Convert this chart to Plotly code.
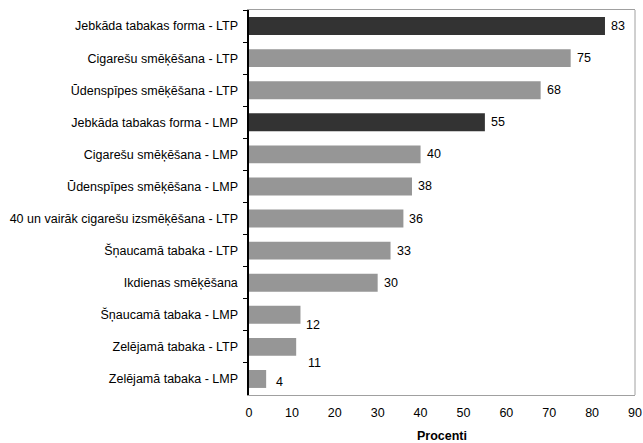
import plotly.graph_objects as go

categories = [
    "Jebkāda tabakas forma - LTP",
    "Cigarešu smēķēšana - LTP",
    "Ūdenspīpes smēķēšana - LTP",
    "Jebkāda tabakas forma - LMP",
    "Cigarešu smēķēšana - LMP",
    "Ūdenspīpes smēķēšana - LMP",
    "40 un vairāk cigarešu izsmēķēšana - LTP",
    "Šņaucamā tabaka - LTP",
    "Ikdienas smēķēšana",
    "Šņaucamā tabaka - LMP",
    "Zelējamā tabaka - LTP",
    "Zelējamā tabaka - LMP",
]
values = [83, 75, 68, 55, 40, 38, 36, 33, 30, 12, 11, 4]
x_ticks = [0, 10, 20, 30, 40, 50, 60, 70, 80, 90]

DARK = "#333333"
GREY = "#969696"
colors = [DARK if c.startswith("Jebkāda") else GREY for c in categories]

# label offsets (px) for the few labels that sit off the bar end in the original
label_shift = {9: (4, -10), 10: (10, -16), 11: (8, -3)}

font = dict(family="Liberation Sans, Arial, sans-serif", size=12.5, color="#000000")

fig = go.Figure(
    go.Bar(
        x=values,
        y=categories,
        orientation="h",
        marker=dict(color=colors, line=dict(width=0)),
        width=0.56,
        hoverinfo="x+y",
    )
)

annotations = []
for i, (cat, val) in enumerate(zip(categories, values)):
    dx, dy = label_shift.get(i, (4, 0))
    annotations.append(
        dict(
            x=val, y=cat, text=str(val), showarrow=False,
            xanchor="left", yanchor="middle", xshift=dx, yshift=dy,
            font=font,
        )
    )

fig.update_layout(
    width=643,
    height=443,
    margin=dict(l=249, r=8, t=10, b=48, autoexpand=False),
    paper_bgcolor="white",
    plot_bgcolor="white",
    font=font,
    showlegend=False,
    annotations=annotations,
    shapes=[
        dict(
            type="line", xref="paper", yref="paper", x0=1, y0=0, x1=1, y1=1,
            line=dict(color="#a0a0a0", width=1), layer="above",
        )
    ],
    xaxis=dict(
        range=[0, 90],
        tickvals=x_ticks,
        showgrid=False,
        zeroline=False,
        showline=True,
        mirror=True,
        linecolor="#a0a0a0",
        linewidth=1,
        ticks="outside",
        ticklen=6,
        tickcolor="rgba(0,0,0,0)",
        tickfont=font,
        title=dict(text="<b>Procenti</b>", font=font, standoff=13),
    ),
    yaxis=dict(
        autorange="reversed",
        automargin=False,
        showgrid=False,
        showline=True,
        linecolor="#000000",
        linewidth=1.5,
        ticks="outside",
        tickson="boundaries",
        ticklen=4,
        tickcolor="#000000",
        tickfont=font,
        ticksuffix="  ",
    ),
)

# drop the browser's default body margin so the figure sits at the page origin
fig.write_html(
    "out.html",
    config={"displayModeBar": False},
    post_script="document.body.style.margin='0';document.body.style.overflow='hidden';",
)
